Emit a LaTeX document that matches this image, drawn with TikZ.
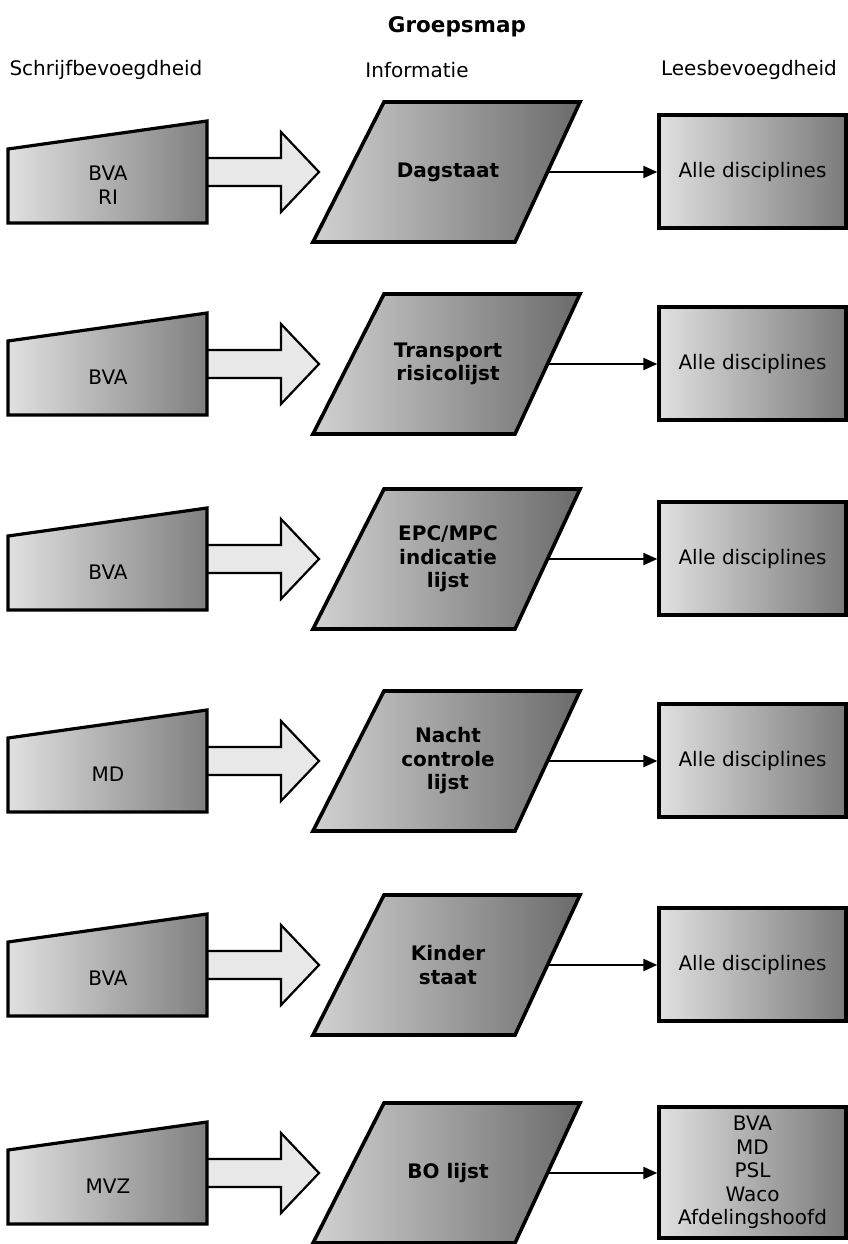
\documentclass[tikz,border=0pt]{standalone}
\usepackage{fontspec}
\setmainfont{DejaVu Sans}
\usepackage{tikz}
\usetikzlibrary{arrows.meta}
\newcommand\vaktekst{\fontsize{20}{23.5}\selectfont}
\tikzset{
  invoer/.style={draw=black,line width=3.2pt,line join=miter,left color=black!12,right color=black!50},
  blokpijl/.style={draw=black,line width=2.2pt,line join=miter,fill=black!9},
  infovak/.style={draw=black,line width=3.6pt,line join=miter,left color=black!18,right color=black!58},
  leesvak/.style={draw=black,line width=3.4pt,left color=black!12,right color=black!52,
    minimum width=187pt,inner sep=0pt,align=center,font=\vaktekst},
  vaktxt/.style={align=center,font=\vaktekst},
  infotxt/.style={align=center,font=\vaktekst\bfseries},
  kop/.style={font=\fontsize{20}{22}\selectfont},
  pijl/.style={-{Triangle[length=14pt,width=12pt]},line width=2.2pt},
}
\begin{document}
\begin{tikzpicture}[x=1pt,y=-1pt]
  \useasboundingbox (0,0) rectangle (848,1244);
  % koppen
  \node[font=\fontsize{21.5}{24}\selectfont\bfseries] (titel) at (457,27) {Groepsmap};
  \node[kop,anchor=west] (kschrijf) at (6,70) {Schrijfbevoegdheid};
  \node[kop] (kinfo) at (417,70) {Informatie};
  \node[kop] (klees) at (749,70) {Leesbevoegdheid};
  % rijen: basis y, schrijf, informatie, lees, hoogte leesvak
  \foreach \yb/\schrijf/\info/\lees/\bh [count=\r] in {
      121/{BVA\\RI}/Dagstaat/Alle disciplines/113,
      313/BVA/{Transport\\risicolijst}/Alle disciplines/113,
      508/BVA/{EPC/MPC\\indicatie\\lijst}/Alle disciplines/113,
      710/MD/{Nacht\\controle\\lijst}/Alle disciplines/113,
      914/BVA/{Kinder\\staat}/Alle disciplines/113,
      1122/MVZ/BO lijst/{BVA\\MD\\PSL\\Waco\\Afdelingshoofd}/131}{
    \draw[blokpijl] (200,\yb+37) -- (281,\yb+37) -- (281,\yb+11) -- (319,\yb+51)
      -- (281,\yb+91) -- (281,\yb+65) -- (200,\yb+65) -- cycle;
    \draw[invoer] (8,\yb+28) -- (207,\yb) -- (207,\yb+102) -- (8,\yb+102) -- cycle;
    \node[vaktxt] (s\r) at (108,\yb+64) {\schrijf};
    \draw[infovak] (384,\yb-19) -- (580,\yb-19) -- (515,\yb+121) -- (313,\yb+121) -- cycle;
    \node[infotxt] (i\r) at (448,\yb+51) {\info};
    \coordinate (ir\r) at (547.5,\yb+51);
    \node[leesvak,minimum height=\bh] (l\r) at (752.5,\yb+50.5) {\lees};
    \draw[pijl] (ir\r) -- (l\r.west |- ir\r);
  }
\end{tikzpicture}
\end{document}
